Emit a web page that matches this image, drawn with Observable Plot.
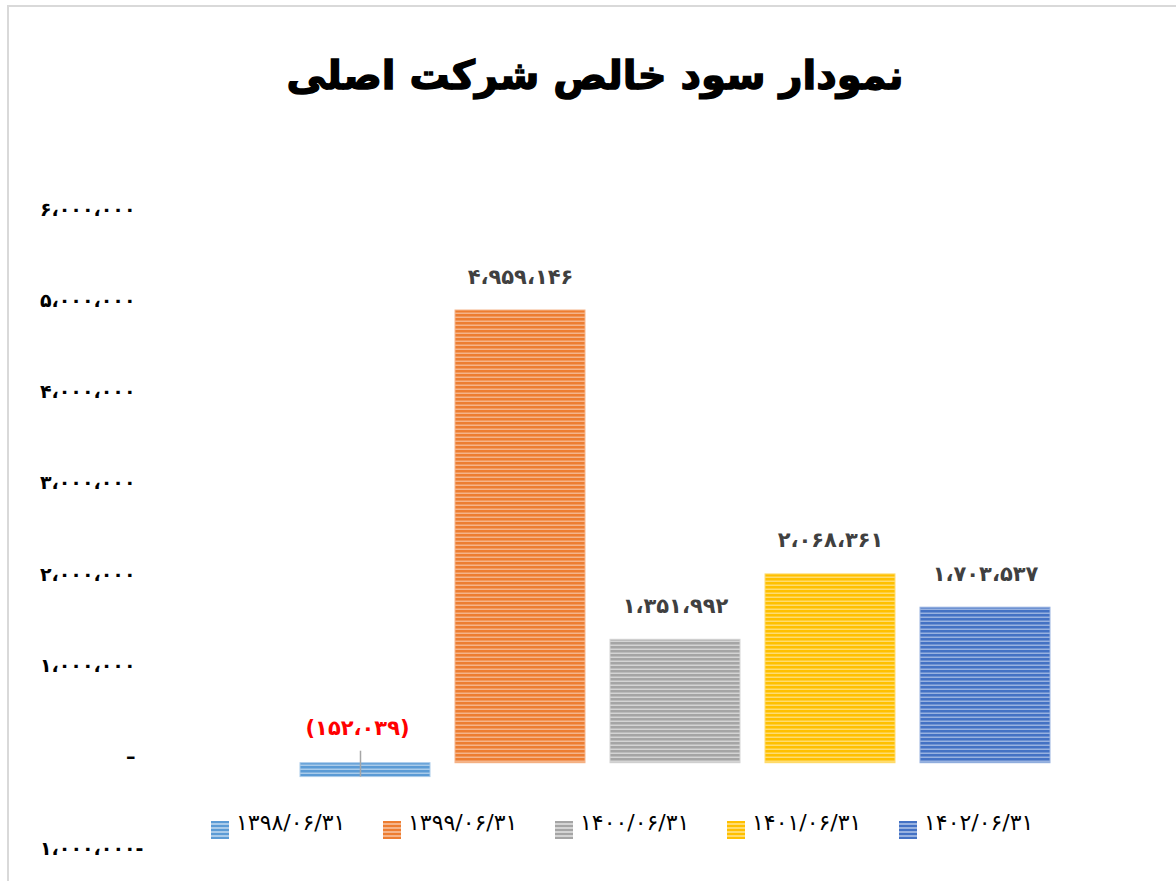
<!DOCTYPE html>
<html>
<head>
<meta charset="utf-8">
<script src="https://cdn.jsdelivr.net/npm/d3@7"></script>
<script src="https://cdn.jsdelivr.net/npm/@observablehq/plot@0.6"></script>
<style>
  body { margin: 0; background: #fff; }
  #wrap { position: relative; width: 1176px; height: 881px; overflow: hidden; font-family: "DejaVu Sans", sans-serif; }
  #frame { position: absolute; left: 7px; top: 5px; width: 1200px; height: 900px; border-left: 2px solid #d9d9d9; border-top: 2px solid #d9d9d9; }
  #title { position: absolute; left: 0; top: 52px; width: 1190px; text-align: center; font-size: 40px; font-weight: bold; color: #000; direction: rtl; -webkit-text-stroke: 1.4px #000; }
  #chart { position: absolute; left: 0; top: 130px; }
  #legend { position: absolute; top: 810px; left: 0; width: 1176px; }
  .item { position: absolute; display: flex; align-items: flex-end; }
  .sw { width: 18px; height: 18px; margin-right: 7px; margin-bottom: -4px; }
  .lt { font-size: 22px; color: #000; direction: ltr; white-space: nowrap; }
</style>
</head>
<body>
<div id="wrap">
  <div id="frame"></div>
  <div id="title">نمودار سود خالص شرکت اصلی</div>
  <div id="chart"></div>
  <div id="legend"></div>
</div>
<script>
const categories = ["۱۳۹۸/۰۶/۳۱", "۱۳۹۹/۰۶/۳۱", "۱۴۰۰/۰۶/۳۱", "۱۴۰۱/۰۶/۳۱", "۱۴۰۲/۰۶/۳۱"];
const values = [-152039, 4959146, 1351992, 2068361, 1703537];
const colors = ["#5B9BD5", "#ED7D31", "#A5A5A5", "#FFC000", "#4472C4"];
const stripeColors = ["#A9CBEA", "#F5B48A", "#D4D4D4", "#FFDC70", "#98B2E0"];
const yTicks = [-1000000, 0, 1000000, 2000000, 3000000, 4000000, 5000000, 6000000];

const faDigits = "۰۱۲۳۴۵۶۷۸۹";
const toFa = s => s.replace(/\d/g, c => faDigits[+c]).replace(/,/g, "،");
const fmt = d3.format(",");
const tickFmt = v => v === 0 ? "–" : v < 0 ? toFa(fmt(-v)) + "-" : toFa(fmt(v));
const labelFmt = v => v < 0 ? "(" + toFa(fmt(-v)) + ")" : toFa(fmt(v));

const data = categories.map((c, i) => ({cat: c, value: values[i], idx: i}));
const pos = data.filter(d => d.value >= 0);
const neg = data.filter(d => d.value < 0);

const barMarks = data.map(d => Plot.barY([d], {x: "cat", y: "value", fill: `url(#stripe${d.idx})`, stroke: stripeColors[d.idx], strokeWidth: 1}));

const chart = Plot.plot({
  width: 1176,
  height: 740,
  marginTop: 85,
  marginBottom: 16,
  marginLeft: 140,
  marginRight: 20,
  style: {fontFamily: "DejaVu Sans, sans-serif", background: "transparent", direction: "ltr"},
  x: {domain: categories, range: [287.5, 1062.5], paddingInner: 0.161, paddingOuter: 0.0805, axis: null},
  y: {domain: [-1000000, 6000000], axis: null},
  marks: [
    Plot.axisY(yTicks.filter(v => v >= 0), {tickFormat: tickFmt, tickSize: 0, tickPadding: 5, dy: -6, fontSize: 19, fontWeight: "bold", fill: "#000", label: null}),
    Plot.axisY(yTicks.filter(v => v < 0), {tickFormat: tickFmt, tickSize: 0, tickPadding: -3, dy: -6, fontSize: 19, fontWeight: "bold", fill: "#000", label: null}),
    ...barMarks,
    Plot.ruleX(neg, {x: "cat", y1: () => 0, y2: "value", insetTop: -12, dx: -5, stroke: "#a6a6a6", strokeWidth: 1.5}),
    Plot.text(pos, {
      x: "cat", y: "value", text: d => labelFmt(d.value),
      dy: -27, fill: "#404040", fontSize: 21, fontWeight: "bold", lineAnchor: "bottom"
    }),
    Plot.text(neg, {
      x: "cat", y: () => 0, text: d => labelFmt(d.value),
      dy: -28, dx: -8, fill: "#FF0000", fontSize: 21, fontWeight: "bold", lineAnchor: "bottom"
    })
  ]
});

// pattern defs
const ns = "http://www.w3.org/2000/svg";
const defs = document.createElementNS(ns, "defs");
colors.forEach((c, i) => {
  const p = document.createElementNS(ns, "pattern");
  p.setAttribute("id", `stripe${i}`);
  p.setAttribute("patternUnits", "userSpaceOnUse");
  p.setAttribute("width", "10");
  p.setAttribute("height", "4");
  const r1 = document.createElementNS(ns, "rect");
  r1.setAttribute("width", "10"); r1.setAttribute("height", "4"); r1.setAttribute("fill", c);
  const r2 = document.createElementNS(ns, "rect");
  r2.setAttribute("y", "2.5"); r2.setAttribute("width", "10"); r2.setAttribute("height", "1.5"); r2.setAttribute("fill", stripeColors[i]);
  p.appendChild(r1); p.appendChild(r2);
  defs.appendChild(p);
});
chart.insertBefore(defs, chart.firstChild);
document.getElementById("chart").appendChild(chart);

// legend
const legend = document.getElementById("legend");
categories.forEach((c, i) => {
  const it = document.createElement("div");
  it.className = "item";
  it.style.left = (211 + i * 172) + "px";
  const sw = document.createElement("div");
  sw.className = "sw";
  sw.style.background = `repeating-linear-gradient(to bottom, ${colors[i]} 0px, ${colors[i]} 2.5px, ${stripeColors[i]} 2.5px, ${stripeColors[i]} 4px)`;
  const lt = document.createElement("span");
  lt.className = "lt";
  lt.textContent = c;
  it.appendChild(sw); it.appendChild(lt);
  legend.appendChild(it);
});
</script>
</body>
</html>
